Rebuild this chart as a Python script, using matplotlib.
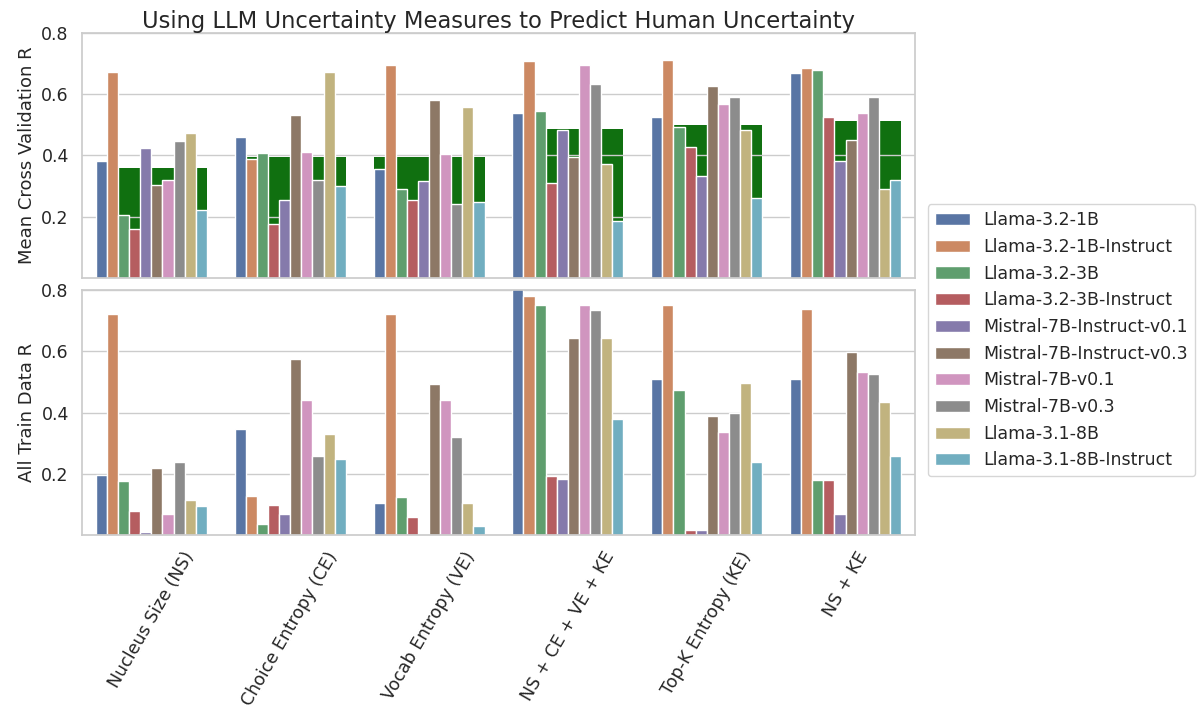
import matplotlib
matplotlib.use('Agg')
import matplotlib.pyplot as plt
import seaborn as sns
import pandas as pd

# 特征组合
measures = ['Nucleus Size (NS)', 'Choice Entropy (CE)', 'Vocab Entropy (VE)',
            'NS + CE + VE + KE', 'Top-K Entropy (KE)', 'NS + KE']
models = ['Llama-3.2-1B', 'Llama-3.2-1B-Instruct', 'Llama-3.2-3B', 'Llama-3.2-3B-Instruct',
          'Mistral-7B-Instruct-v0.1', 'Mistral-7B-Instruct-v0.3', 'Mistral-7B-v0.1',
          'Mistral-7B-v0.3', 'Llama-3.1-8B', 'Llama-3.1-8B-Instruct']

# mean cross validation R, one list per measure (in model order)
cv_ns = [0.381, 0.673, 0.206, 0.159, 0.423, 0.304, 0.321, 0.446, 0.472, 0.223]
cv_ce = [0.461, 0.389, 0.408, 0.177, 0.253, 0.533, 0.411, 0.321, 0.673, 0.299]
cv_ve = [0.355, 0.694, 0.291, 0.256, 0.315, 0.579, 0.404, 0.243, 0.556, 0.247]
cv_all = [0.537, 0.708, 0.546, 0.311, 0.481, 0.396, 0.694, 0.633, 0.372, 0.185]
cv_ke = [0.526, 0.712, 0.493, 0.427, 0.334, 0.625, 0.567, 0.590, 0.482, 0.262]
cv_nske = [0.667, 0.686, 0.678, 0.526, 0.380, 0.451, 0.537, 0.590, 0.291, 0.321]

# all train data R
tr_ns = [0.196, 0.722, 0.178, 0.079, 0.012, 0.220, 0.068, 0.240, 0.115, 0.095]
tr_ce = [0.346, 0.129, 0.038, 0.099, 0.068, 0.573, 0.440, 0.258, 0.331, 0.250]
tr_ve = [0.106, 0.722, 0.126, 0.061, 0.0, 0.493, 0.440, 0.319, 0.106, 0.030]
tr_all = [0.82, 0.779, 0.749, 0.194, 0.183, 0.642, 0.752, 0.733, 0.642, 0.379]
tr_ke = [0.510, 0.752, 0.475, 0.018, 0.018, 0.388, 0.338, 0.399, 0.498, 0.240]
tr_nske = [0.510, 0.737, 0.179, 0.179, 0.068, 0.597, 0.531, 0.525, 0.434, 0.259]

# 人类基线 (green)
human = [0.358, 0.394, 0.394, 0.486, 0.499, 0.511]


def to_long(cols):
    rows = []
    for m, vals in zip(measures, cols):
        for mod, v in zip(models, vals):
            rows.append({'measure': m, 'model': mod, 'r': v})
    return pd.DataFrame(rows)


df_cv = to_long([cv_ns, cv_ce, cv_ve, cv_all, cv_ke, cv_nske])
df_tr = to_long([tr_ns, tr_ce, tr_ve, tr_all, tr_ke, tr_nske])

sns.set_theme(style='whitegrid')
plt.rcParams['font.family'] = ['DejaVu Sans']

fig, (ax1, ax2) = plt.subplots(2, 1, figsize=(12, 7.09), dpi=100, sharex=True)
fig.subplots_adjust(left=0.0683, right=0.7625, top=0.954, bottom=0.245, hspace=0.048)

ax1.bar(range(len(measures)), human, width=0.8, color=sns.desaturate('green', 0.75),
        zorder=0.3, linewidth=0)
sns.barplot(data=df_cv, x='measure', y='r', hue='model', ax=ax1,
            edgecolor='white', linewidth=1, legend=False)
sns.barplot(data=df_tr, x='measure', y='r', hue='model', ax=ax2,
            edgecolor='white', linewidth=1)

for ax in (ax1, ax2):
    ax.set_ylim(0, 0.8)
    ax.set_yticks([0.2, 0.4, 0.6, 0.8])
    ax.set_xlabel('')
    ax.tick_params(axis='both', labelsize=12.5)

ax1.set_ylabel('Mean Cross Validation R', fontsize=13)
ax2.set_ylabel('All Train Data R', fontsize=13)
ax1.set_title('Using LLM Uncertainty Measures to Predict Human Uncertainty', fontsize=16.3, pad=3)
plt.setp(ax2.get_xticklabels(), rotation=60)

handles, labels = ax2.get_legend_handles_labels()
ax2.get_legend().remove()
fig.legend(handles, labels, loc='center left', bbox_to_anchor=(0.766, 0.52),
           fontsize=12.5, frameon=True)

plt.savefig('out.png')
